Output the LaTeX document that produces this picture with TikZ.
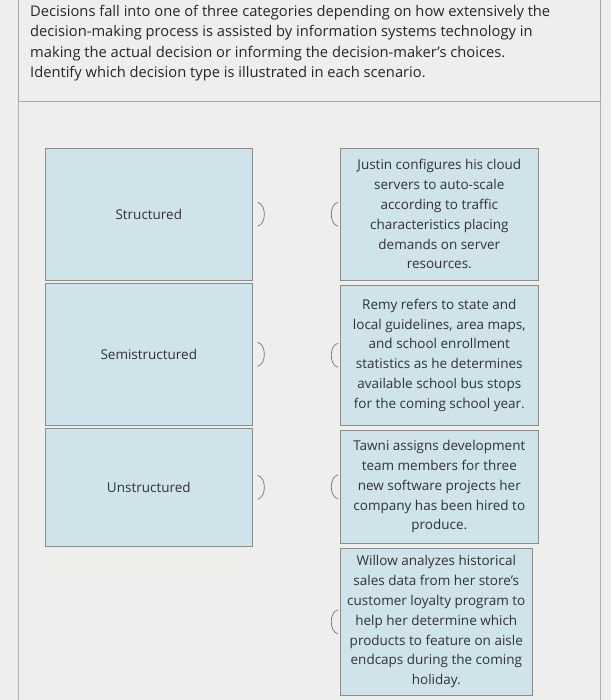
\documentclass[tikz,border=0pt]{standalone}
\usepackage{fontspec}
\setmainfont{Open Sans}
\definecolor{cardfill}{HTML}{CFE3EA}
\definecolor{bg}{HTML}{EEEEEC}
\begin{document}
\begin{tikzpicture}[x=1pt,y=-1pt,
 card/.style={draw=black!45,fill=cardfill,line width=0.6pt,anchor=north west},
 ctext/.style={font=\fontsize{13.5}{19.8}\selectfont,align=center,text=black!80},
 tab/.style={draw=black!55,line width=0.7pt}]
\fill[bg] (0,0) rectangle (611,700);
\useasboundingbox (0,0) rectangle (611,700);
\node[anchor=north west,align=left,font=\fontsize{14.7}{20.5}\selectfont,text=black!85,inner sep=0] (intro) at (30,5)
 {Decisions fall into one of three categories depending on how extensively the\\
 decision-making process is assisted by information systems technology in\\
 making the actual decision or informing the decision-maker's choices.\\
 Identify which decision type is illustrated in each scenario.};
\draw[black!35,line width=0.8pt] (18,0) -- (18,101) -- (600,101) -- (600,0);
\draw[black!30] (18,101) -- (18,700) (600,101) -- (600,700);
\foreach \n/\y/\h/\t in {s1/148/132/Structured,s2/283/142/Semistructured,s3/428/118/Unstructured}{
 \node[card,minimum width=207,minimum height=\h] (\n) at (45,\y) {};
 \node[ctext] at (\n.center) {\t};
 \draw[tab] ([xshift=5]\n.east) ++(0,-12) .. controls +(9,2) and +(9,-2) .. ++(0,24);
}
\node[card,minimum width=198,minimum height=132] (r1) at (340,148) {};
\node[ctext] at (r1.center) {Justin configures his cloud\\servers to auto-scale\\according to traffic\\characteristics placing\\demands on server\\resources.};
\node[card,minimum width=198,minimum height=140] (r2) at (340,285) {};
\node[ctext] at (r2.center) {Remy refers to state and\\local guidelines, area maps,\\and school enrollment\\statistics as he determines\\available school bus stops\\for the coming school year.};
\node[card,minimum width=198,minimum height=113] (r3) at (340,430) {};
\node[ctext] at (r3.center) {Tawni assigns development\\team members for three\\new software projects her\\company has been hired to\\produce.};
\node[card,minimum width=192,minimum height=147] (r4) at (340,548) {};
\node[ctext] at (r4.center) {Willow analyzes historical\\sales data from her store's\\customer loyalty program to\\help her determine which\\products to feature on aisle\\endcaps during the coming\\holiday.};
\foreach \n in {r1,r2,r3,r4}
 \draw[tab] ([xshift=-2]\n.west) ++(0,-12) .. controls +(-9,2) and +(-9,-2) .. ++(0,24);
\end{tikzpicture}
\end{document}
